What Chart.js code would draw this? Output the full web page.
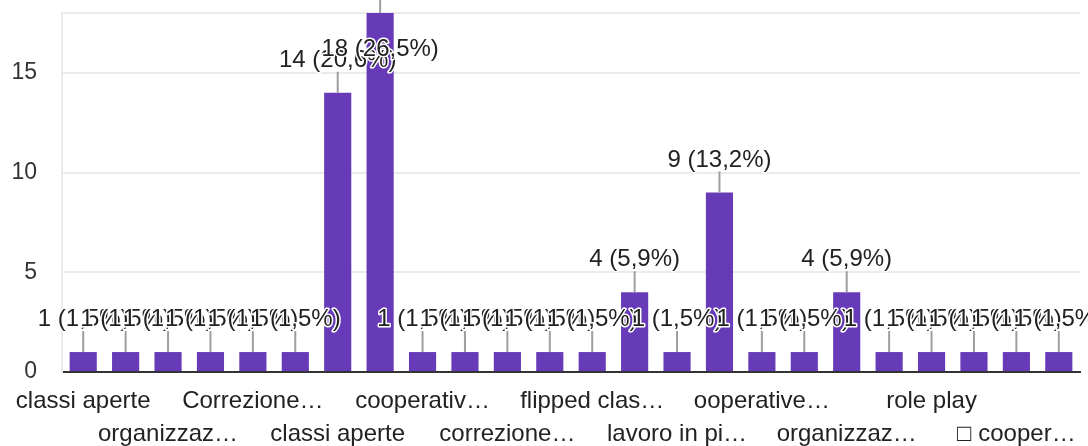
<!DOCTYPE html>
<html>
<head>
<meta charset="utf-8">
<script src="https://cdn.jsdelivr.net/npm/chart.js@4/dist/chart.umd.min.js"></script>
<style>
  html, body { margin: 0; padding: 0; background: #fff; }
  #wrap { width: 1088px; height: 446px; }
</style>
</head>
<body>
<div id="wrap"><canvas id="chart"></canvas></div>
<script>
// answers (only every other one gets a visible label on the axis)
const categories = [
  'classi aperte', '', 'organizzaz…', '', 'Correzione…', '',
  'classi aperte', '', 'cooperativ…', '', 'correzione…', '',
  'flipped clas…', '', 'lavoro in pi…', '', 'ooperative…', '',
  'organizzaz…', '', 'role play', '', '□ cooper…', ''
];
const counts = [1, 1, 1, 1, 1, 1, 14, 18, 1, 1, 1, 1, 1, 4, 1, 9, 1, 1, 4, 1, 1, 1, 1, 1];
const percents = [
  '1,5', '1,5', '1,5', '1,5', '1,5', '1,5', '20,6', '26,5', '1,5', '1,5', '1,5', '1,5',
  '1,5', '5,9', '1,5', '13,2', '1,5', '1,5', '5,9', '1,5', '1,5', '1,5', '1,5', '1,5'
];
const yTicks = [0, 5, 10, 15];
const yMax = 18;

const FONT = '"Liberation Sans", Arial, sans-serif';

// value labels with a small stem, like the forms summary charts
const barLabels = {
  id: 'barLabels',
  afterDatasetsDraw(chart) {
    const ctx = chart.ctx;
    const meta = chart.getDatasetMeta(0);
    ctx.save();
    ctx.strokeStyle = '#9e9e9e';
    ctx.lineWidth = 2;
    meta.data.forEach(bar => {
      ctx.beginPath();
      ctx.moveTo(bar.x, bar.y);
      ctx.lineTo(bar.x, bar.y - 21);
      ctx.stroke();
    });
    ctx.font = '24px ' + FONT;
    ctx.textAlign = 'center';
    ctx.textBaseline = 'alphabetic';
    ctx.lineJoin = 'round';
    meta.data.forEach((bar, i) => {
      const text = counts[i] + ' (' + percents[i] + '%)';
      let base = bar.y - 26;
      // no room above the tallest bar: put the label inside it
      if (base - 20 < 0) base = bar.y + 43;
      ctx.lineWidth = 3;
      ctx.strokeStyle = '#fff';
      ctx.strokeText(text, bar.x, base);
      ctx.fillStyle = '#222';
      ctx.fillText(text, bar.x, base);
    });
    ctx.restore();
  }
};

new Chart(document.getElementById('chart'), {
  type: 'bar',
  data: {
    labels: categories,
    datasets: [{
      data: counts,
      backgroundColor: '#673ab7',
      barPercentage: 0.64,
      categoryPercentage: 1.0
    }]
  },
  options: {
    responsive: true,
    maintainAspectRatio: false,
    animation: false,
    layout: { padding: { top: 13, right: 8, left: 0, bottom: 0 } },
    plugins: { legend: { display: false }, tooltip: { enabled: false } },
    scales: {
      x: {
        grid: { display: false },
        border: { color: '#333', width: 2 },
        ticks: {
          autoSkip: false,
          maxRotation: 0,
          minRotation: 0,
          padding: 5,
          color: '#222',
          font: { family: FONT, size: 24, lineHeight: 1.375 },
          callback: function(value, index) {
            if (index % 4 === 0) return categories[index];
            if (index % 4 === 2) return ['', categories[index]];
            return '';
          }
        },
        afterFit(scale) { scale.height = 74; }
      },
      y: {
        min: 0,
        max: yMax,
        afterBuildTicks(scale) {
          scale.ticks = yTicks.concat([yMax]).map(v => ({ value: v }));
        },
        grid: {
          drawTicks: false,
          lineWidth: 2,
          color: c => (c.tick && c.tick.value === 0) ? 'rgba(0,0,0,0)' : '#ebebeb'
        },
        border: { color: '#ebebeb', width: 2 },
        ticks: {
          padding: 25,
          color: '#333',
          font: { family: FONT, size: 23 },
          callback: v => (v === yMax ? '' : v)
        },
        afterFit(scale) {
          scale.width = 62;
          scale.paddingTop = 0;
          scale.paddingBottom = 0;
        }
      }
    }
  },
  plugins: [barLabels]
});
</script>
</body>
</html>
